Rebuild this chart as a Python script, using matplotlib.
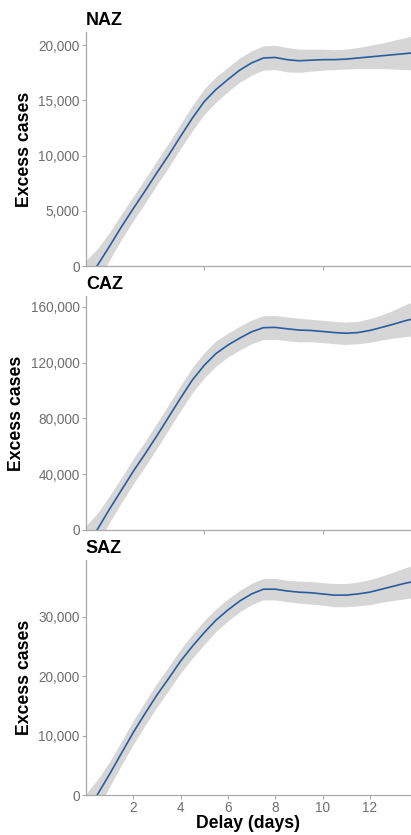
"""Excess cases vs reporting delay, three regions stacked (NAZ / CAZ / SAZ)."""

import matplotlib.pyplot as plt
import numpy as np
from matplotlib.ticker import FuncFormatter, MultipleLocator

plt.rcParams.update({"font.family": ["Liberation Sans", "DejaVu Sans"]})

# delay grid (days), every half day
delay = np.arange(0, 14.01, 0.5)

naz_fit = [-1500, 100, 1800, 3550, 5200, 6800, 8450, 10050, 11750, 13400,
           14900, 16000, 16900, 17750, 18400, 18850, 18900, 18700, 18600, 18650,
           18700, 18700, 18750, 18850, 18950, 19050, 19150, 19250, 19350]
naz_half = [2000, 1500, 1250, 1150, 1100, 1100, 1100, 1100, 1100, 1150,
            1150, 1150, 1100, 1100, 1100, 1100, 1100, 1100, 1050, 1000,
            950, 900, 900, 950, 1050, 1150, 1300, 1450, 1600]

caz_fit = [-12000, 800, 15000, 28500, 42000, 54500, 67500, 81000, 94500, 107500,
           118000, 126500, 132500, 137500, 142000, 145000, 145200, 144200, 143300, 143000,
           142300, 141500, 141000, 141500, 143000, 145200, 147500, 150000, 152000]
caz_half = [15000, 11500, 9500, 9000, 9000, 9000, 9000, 9000, 9000, 9000,
            9000, 9000, 8500, 8500, 8500, 8500, 8500, 8500, 8500, 8000,
            8000, 8000, 8000, 8000, 8500, 9000, 10000, 11500, 12500]

saz_fit = [-3000, 150, 3500, 7000, 10500, 13700, 16800, 19600, 22500, 25000,
           27300, 29400, 31100, 32600, 33800, 34600, 34600, 34300, 34100, 34000,
           33800, 33600, 33600, 33800, 34100, 34600, 35100, 35600, 36000]
saz_half = [3200, 2500, 2100, 2000, 2000, 2000, 2000, 2000, 2000, 2000,
            2000, 1900, 1850, 1800, 1800, 1800, 1800, 1800, 1850, 1900,
            1900, 1950, 1950, 2000, 2100, 2200, 2400, 2600, 2800]

panels = [
    ("NAZ", naz_fit, naz_half, 21200, 5000),
    ("CAZ", caz_fit, caz_half, 167700, 40000),
    ("SAZ", saz_fit, saz_half, 39500, 10000),
]

# axes boxes in figure fractions (left, bottom, width, height)
boxes = [
    (0.209, 0.6814, 0.791, 0.2802),
    (0.209, 0.3653, 0.791, 0.2802),
    (0.209, 0.0479, 0.791, 0.2814),
]

line_col = "#2a5d9f"
band_col = "#d6d6d6"
spine_col = "#a8a8a8"
tick_col = "#6e6e6e"

fig = plt.figure(figsize=(4.11, 8.35), dpi=100)

for i, ((name, fit, half, ytop, ystep), box) in enumerate(zip(panels, boxes)):
    ax = fig.add_axes(box)
    fit = np.array(fit, dtype=float)
    half = np.array(half, dtype=float)
    ax.fill_between(delay, fit - half, fit + half, color=band_col, linewidth=0)
    ax.plot(delay, fit, color=line_col, linewidth=1.2)

    ax.set_xlim(0.0, 13.74)
    ax.set_ylim(0, ytop)
    ax.yaxis.set_major_locator(MultipleLocator(ystep))
    ax.yaxis.set_major_formatter(FuncFormatter(lambda v, _: f"{v:,.0f}"))

    last = i == len(panels) - 1
    ax.set_xticks([2, 4, 6, 8, 10, 12] if last else [5, 10])
    if not last:
        ax.tick_params(axis="x", labelbottom=False)

    for side in ("top", "right"):
        ax.spines[side].set_visible(False)
    for side in ("left", "bottom"):
        ax.spines[side].set_color(spine_col)
        ax.spines[side].set_linewidth(0.9)
    ax.tick_params(axis="both", colors=spine_col, labelcolor=tick_col,
                   labelsize=9.8, length=3, width=0.8, pad=1.5)

    ax.set_ylabel("Excess cases", fontsize=12.7, fontweight="bold", labelpad=4)
    ax.set_title(name, loc="left", fontsize=13, fontweight="bold", pad=5)
    if last:
        ax.set_xlabel("Delay (days)", fontsize=12.7, fontweight="bold", labelpad=0)

fig.savefig("out.png", dpi=100)
plt.close(fig)
